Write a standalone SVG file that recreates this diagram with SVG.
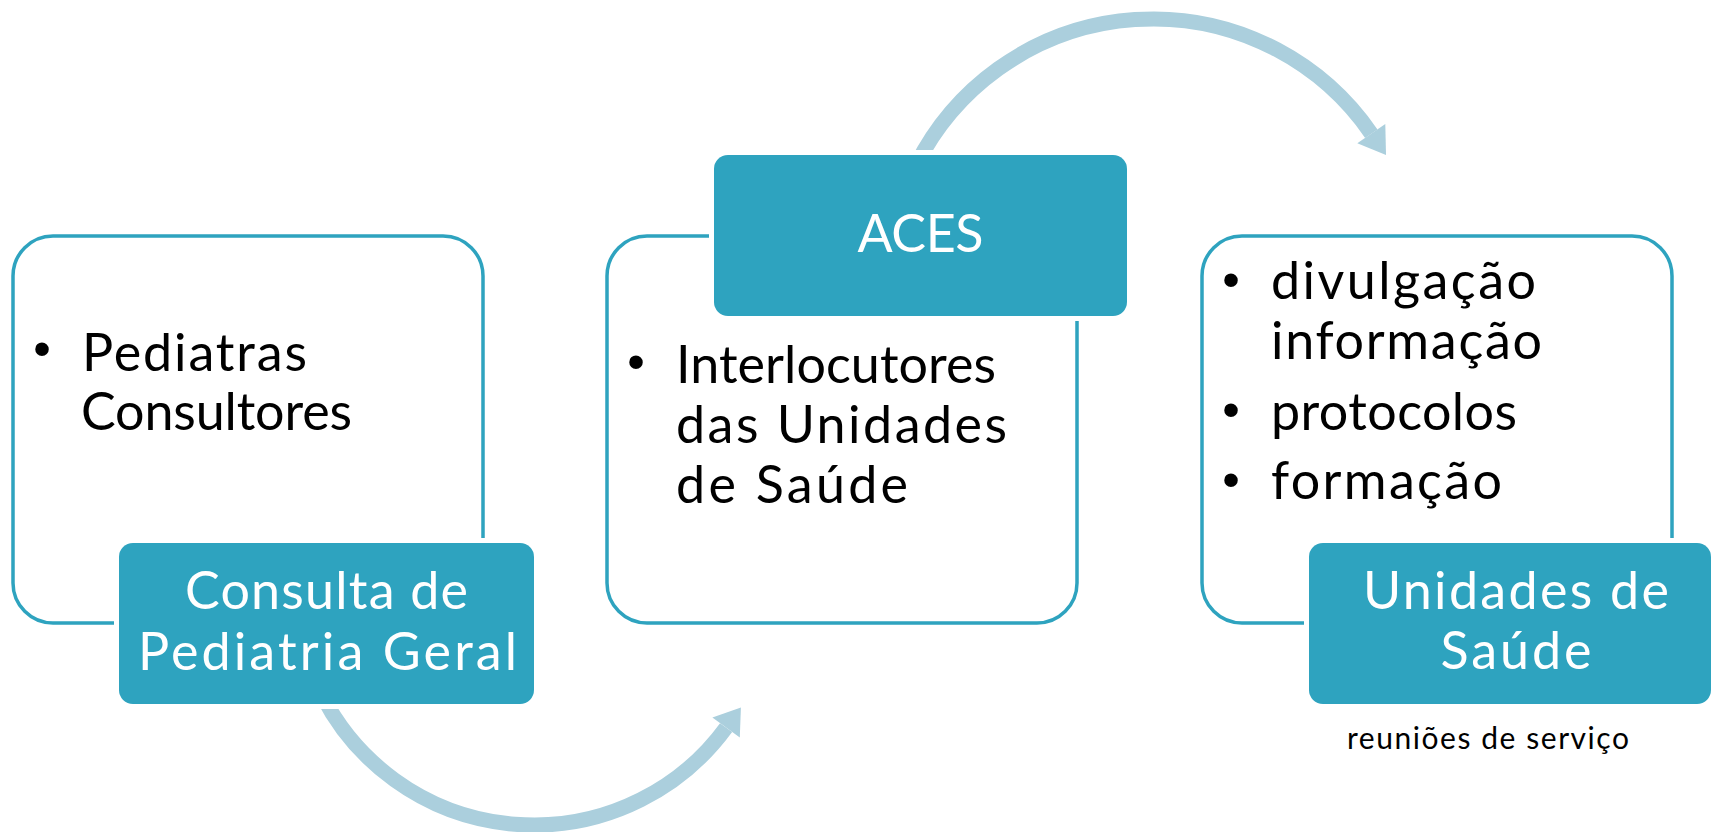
<svg xmlns="http://www.w3.org/2000/svg" width="1712" height="832" viewBox="0 0 1712 832">
  <style>
    .outline { fill: #ffffff; stroke: #2ea3bf; stroke-width: 3.5; }
    .tag { fill: #2ea3bf; stroke: #ffffff; stroke-width: 10; paint-order: stroke; }
    .arc { fill: none; stroke: #abcfdd; stroke-width: 15; }
    .head { fill: #abcfdd; }
    .body { font-family: Lato, "Liberation Sans", sans-serif; font-size: 52px; fill: #000000; }
    .label { font-family: Lato, "Liberation Sans", sans-serif; font-size: 52px; fill: #ffffff; text-anchor: middle; }
    .bullet { font-family: "Liberation Sans", sans-serif; font-size: 50px; fill: #000000; text-anchor: middle; }
    .note { font-family: Lato, "Liberation Sans", sans-serif; font-size: 30px; fill: #000000; text-anchor: middle; }
  </style>
  <rect x="0" y="0" width="1712" height="832" fill="#ffffff"/>

  <g id="connectors">
    <path class="arc" d="M 321.9 695 A 238 238 0 0 0 726.1 727.6"/>
    <polygon class="head" points="739.8,737.6 740.9,707.4 712.4,717.6"/>
    <path class="arc" d="M 916.2 165 A 265 265 0 0 1 1371.3 133.7"/>
    <polygon class="head" points="1385.3,124.1 1386,155.1 1357.3,143.3"/>
  </g>

  <g id="node-consulta">
    <rect class="outline" x="13" y="236" width="470" height="387" rx="40" ry="40"/>
    <text class="bullet" x="42" y="366">•</text>
    <text class="body" x="82" y="371" textLength="225" lengthAdjust="spacing">Pediatras</text>
    <text class="body" x="81" y="430" textLength="271" lengthAdjust="spacing">Consultores</text>
    <rect class="tag" x="119" y="543" width="415" height="161" rx="14" ry="14"/>
    <text class="label" x="326.5" y="609" textLength="283" lengthAdjust="spacing">Consulta de</text>
    <text class="label" x="327.5" y="670" textLength="379" lengthAdjust="spacing">Pediatria Geral</text>
  </g>

  <g id="node-aces">
    <rect class="outline" x="607" y="236" width="470" height="387" rx="40" ry="40"/>
    <text class="bullet" x="636" y="379">•</text>
    <text class="body" x="676" y="383" textLength="320" lengthAdjust="spacing">Interlocutores</text>
    <text class="body" x="676" y="443" textLength="331" lengthAdjust="spacing">das Unidades</text>
    <text class="body" x="676" y="503" textLength="232" lengthAdjust="spacing">de Saúde</text>
    <rect class="tag" x="714" y="155" width="413" height="161" rx="14" ry="14"/>
    <text class="label" x="920.5" y="252" textLength="126" lengthAdjust="spacing">ACES</text>
  </g>

  <g id="node-unidades">
    <rect class="outline" x="1202" y="236" width="470" height="387" rx="40" ry="40"/>
    <text class="bullet" x="1231" y="297">•</text>
    <text class="body" x="1271" y="299" textLength="265" lengthAdjust="spacing">divulgação</text>
    <text class="body" x="1271" y="359" textLength="271" lengthAdjust="spacing">informação</text>
    <text class="bullet" x="1231" y="427">•</text>
    <text class="body" x="1271" y="430" textLength="246" lengthAdjust="spacing">protocolos</text>
    <text class="bullet" x="1231" y="497">•</text>
    <text class="body" x="1271" y="499" textLength="231" lengthAdjust="spacing">formação</text>
    <rect class="tag" x="1309" y="543" width="402" height="161" rx="14" ry="14"/>
    <text class="label" x="1516" y="609" textLength="306" lengthAdjust="spacing">Unidades de</text>
    <text class="label" x="1516" y="669" textLength="151" lengthAdjust="spacing">Saúde</text>
    <text class="note" x="1488" y="749" textLength="282" lengthAdjust="spacing">reuniões de serviço</text>
  </g>
</svg>
